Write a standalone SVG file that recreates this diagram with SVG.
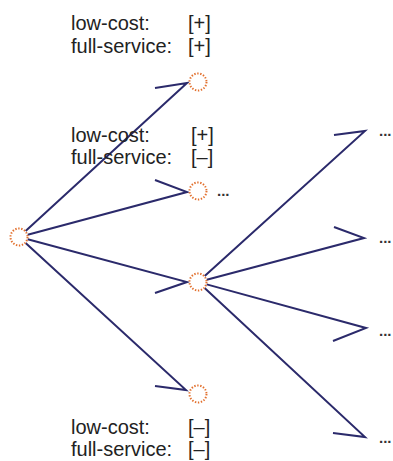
<svg xmlns="http://www.w3.org/2000/svg" width="393" height="461" viewBox="0 0 393 461">
<style>
.lbl{font-family:"Liberation Sans",Arial,sans-serif;font-size:20px;fill:#222}
.dots{font-family:"Liberation Sans",Arial,sans-serif;font-size:15px;fill:#333;font-weight:bold}
.node{fill:#fff;stroke:#e2702e;stroke-width:2;stroke-dasharray:1.4 1.6}
.edge{fill:none;stroke:#2b2a6b;stroke-width:2;stroke-linejoin:miter}
</style>
<rect width="393" height="461" fill="#fff"/>
<g id="connectors">
<path class="edge" d="M25.6 230.9 L187 83 L155 88"/>
<path class="edge" d="M27.7 234.7 L187 192 L155 180"/>
<path class="edge" d="M27.7 239.3 L187 282 L155 293"/>
<path class="edge" d="M25.6 243.1 L186 390 L155 386"/>
<path class="edge" d="M204.7 276 L365 131 L334 135"/>
<path class="edge" d="M206.7 279.7 L364 238 L334 227"/>
<path class="edge" d="M206.7 284.4 L366 328 L333 341"/>
<path class="edge" d="M204.6 288.1 L365 437 L333 433"/>
</g>
<g id="root"><circle class="node" cx="19" cy="237" r="8.5"/></g>
<g id="n1"><circle class="node" cx="198" cy="82" r="8.5"/></g>
<g id="n2"><circle class="node" cx="198" cy="191" r="8.5"/><text class="dots" x="217" y="196">...</text></g>
<g id="n3"><circle class="node" cx="198" cy="282" r="8.5"/></g>
<g id="n4"><circle class="node" cx="198" cy="394" r="8.5"/></g>
<g id="e1"><text class="dots" x="379" y="136">...</text></g>
<g id="e2"><text class="dots" x="379" y="243">...</text></g>
<g id="e3"><text class="dots" x="379" y="336">...</text></g>
<g id="e4"><text class="dots" x="379" y="443">...</text></g>
<g id="label1">
<text class="lbl" x="71" y="30">low-cost:</text>
<text class="lbl" x="188" y="30">[+]</text>
<text class="lbl" x="71" y="53">full-service:</text>
<text class="lbl" x="188" y="53">[+]</text>
</g>
<g id="label2">
<text class="lbl" x="71" y="142">low-cost:</text>
<text class="lbl" x="191" y="142">[+]</text>
<text class="lbl" x="71" y="164">full-service:</text>
<text class="lbl" x="191" y="164">[–]</text>
</g>
<g id="label3">
<text class="lbl" x="71" y="434">low-cost:</text>
<text class="lbl" x="188" y="434">[–]</text>
<text class="lbl" x="71" y="456">full-service:</text>
<text class="lbl" x="188" y="456">[–]</text>
</g>
</svg>
